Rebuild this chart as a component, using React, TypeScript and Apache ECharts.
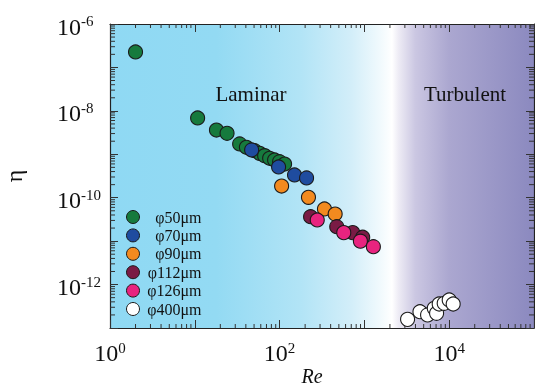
import React, { useEffect, useRef } from "react";
import * as echarts from "echarts";

const FONT = "'Liberation Serif', 'Times New Roman', serif";

const seriesNames = ["φ50μm", "φ70μm", "φ90μm", "φ112μm", "φ126μm", "φ400μm"];
const seriesColors = ["#167a3d", "#1f4c9f", "#f28a1f", "#7a1b45", "#e8247f", "#ffffff"];

const re50 = [2.0, 10.8, 18.0, 24.0, 33.8, 40.6, 50.8, 58.2, 66.6, 76.3, 87.3, 100, 114.5];
const eta50 = [2.27e-7, 6.85e-9, 3.62e-9, 3.04e-9, 1.73e-9, 1.45e-9, 1.21e-9, 1.05e-9, 9.3e-10, 8.1e-10, 7.4e-10, 6.75e-10, 5.97e-10];

const re70 = [46.8, 97.3, 150, 208];
const eta70 = [1.26e-9, 5.1e-10, 3.34e-10, 2.85e-10];

const re90 = [105.6, 219, 338, 452];
const eta90 = [1.86e-10, 1.02e-10, 5.5e-11, 4.2e-11];

const re112 = [232, 472, 728, 955];
const eta112 = [3.66e-11, 2.15e-11, 1.57e-11, 1.23e-11];

const re126 = [278, 571, 897, 1276];
const eta126 = [3.07e-11, 1.57e-11, 1.0e-11, 7.45e-12];

const re400 = [3230, 4520, 5560, 6670, 7100, 7620, 8730, 10000, 11140];
const eta400 = [1.58e-13, 2.37e-13, 2.0e-13, 2.84e-13, 2.18e-13, 3.57e-13, 3.7e-13, 4.42e-13, 3.57e-13];

const seriesRe = [re50, re70, re90, re112, re126, re400];
const seriesEta = [eta50, eta70, eta90, eta112, eta126, eta400];

const xLabelExps = [0, 2, 4];
const yLabelExps = [-6, -8, -10, -12];
const xMin = 1;
const xMax = 1e5;
const yMin = 1e-13;
const yMax = 1e-6;

const regionLabels = ["Laminar", "Turbulent"];

export default function App() {
  const ref = useRef<HTMLDivElement>(null);
  useEffect(() => {
    if (!ref.current) return;
    const chart = echarts.init(ref.current, null, { renderer: "svg" });

    const richLabel = {
      b: { fontSize: 24, lineHeight: 26, fontFamily: FONT, color: "#111" },
      s: { fontSize: 15, lineHeight: 12, verticalAlign: "top", fontFamily: FONT, color: "#111" },
    };
    const fmt = (exps: number[]) => (v: number) => {
      const e = Math.round(Math.log10(v));
      if (!exps.includes(e)) return "";
      return `{b|10}{s|${e}}`;
    };

    const tickCommon = { show: true, inside: true, length: 8, lineStyle: { color: "#333", width: 1 } };
    const lineCommon = { show: true, lineStyle: { color: "#222", width: 1.2 } };

    const scatterSeries = seriesNames.map((name, i) => ({
      name,
      type: "scatter",
      symbol: "circle",
      symbolSize: 14,
      data: seriesRe[i].map((r, j) => [r, seriesEta[i][j]]),
      itemStyle: { color: seriesColors[i], borderColor: "#1a1a1a", borderWidth: 1.1, opacity: 1 },
      z: 3,
    }));

    const minorSeries = {
      type: "custom",
      silent: true,
      z: 2,
      data: [[10, 1e-10]],
      renderItem: (params: any, api: any) => {
        const cs = params.coordSys;
        const children: any[] = [];
        const top = cs.y;
        const bottom = cs.y + cs.height;
        const left = cs.x;
        const right = cs.x + cs.width;
        const st = { stroke: "#333", lineWidth: 1 };
        for (let k = 0; k < 5; k++) {
          for (let m = 2; m <= 9; m++) {
            const v = m * Math.pow(10, k);
            const px = api.coord([v, yMin])[0];
            children.push({ type: "line", shape: { x1: px, y1: bottom, x2: px, y2: bottom - 4 }, style: st });
            children.push({ type: "line", shape: { x1: px, y1: top, x2: px, y2: top + 4 }, style: st });
          }
        }
        for (let k = -13; k < -6; k++) {
          for (let m = 2; m <= 9; m++) {
            const v = m * Math.pow(10, k);
            const py = api.coord([xMin, v])[1];
            children.push({ type: "line", shape: { x1: left, y1: py, x2: left + 5, y2: py }, style: st });
            children.push({ type: "line", shape: { x1: right, y1: py, x2: right - 5, y2: py }, style: st });
          }
        }
        return { type: "group", children };
      },
    };

    const bg = new echarts.graphic.LinearGradient(0, 0, 1, 0, [
      { offset: 0, color: "#8fd9f3" },
      { offset: 0.25, color: "#93daf3" },
      { offset: 0.45, color: "#b2e4f6" },
      { offset: 0.57, color: "#d3eef9" },
      { offset: 0.64, color: "#f2fafd" },
      { offset: 0.665, color: "#ffffff" },
      { offset: 0.68, color: "#eeecf5" },
      { offset: 0.72, color: "#cbc7e2" },
      { offset: 0.8, color: "#aba7d0" },
      { offset: 1, color: "#8b89bf" },
    ]);

    chart.setOption({
      animation: false,
      textStyle: { fontFamily: FONT },
      grid: {
        left: 110,
        right: 1,
        top: 24,
        bottom: 60,
        show: true,
        backgroundColor: bg,
        borderWidth: 0,
        containLabel: false,
        outerBoundsMode: "none",
      },
      legend: {
        data: seriesNames,
        orient: "vertical",
        left: 126,
        top: 209,
        padding: 0,
        itemWidth: 13,
        itemHeight: 13,
        itemGap: 2.4,
        itemStyle: { borderColor: "#1a1a1a", borderWidth: 1 },
        icon: "circle",
        formatter: (name: string) => `{a|${name}}`,
        textStyle: {
          lineHeight: 13,
          rich: { a: { width: 57, align: "right", fontSize: 16, lineHeight: 13, fontFamily: FONT, color: "#111" } },
        },
      },
      xAxis: [
        {
          type: "log",
          logBase: 10,
          min: xMin,
          max: xMax,
          splitNumber: 5,
          position: "bottom",
          axisLine: lineCommon,
          axisTick: tickCommon,
          splitLine: { show: false },
          axisLabel: { margin: 12, formatter: fmt(xLabelExps), rich: richLabel },
          name: "Re",
          nameLocation: "middle",
          nameGap: 38,
          nameMoveOverlap: false,
          nameTextStyle: { fontSize: 20, lineHeight: 20, fontStyle: "italic", fontFamily: FONT, color: "#111", padding: [0, 20, 0, 0] },
        },
        {
          type: "log",
          logBase: 10,
          min: xMin,
          max: xMax,
          splitNumber: 5,
          position: "top",
          axisLine: lineCommon,
          axisTick: tickCommon,
          splitLine: { show: false },
          axisLabel: { show: false },
        },
      ],
      yAxis: [
        {
          type: "log",
          logBase: 10,
          min: yMin,
          max: yMax,
          splitNumber: 7,
          position: "left",
          axisLine: lineCommon,
          axisTick: tickCommon,
          splitLine: { show: false },
          axisLabel: { margin: 53, align: "left", padding: [5, 0, 0, 0], formatter: fmt(yLabelExps), rich: richLabel },
          name: "η",
          nameLocation: "middle",
          nameGap: 84,
          nameMoveOverlap: false,
          nameTextStyle: { fontSize: 24, fontFamily: FONT, color: "#111" },
        },
        {
          type: "log",
          logBase: 10,
          min: yMin,
          max: yMax,
          splitNumber: 7,
          position: "right",
          axisLine: lineCommon,
          axisTick: tickCommon,
          splitLine: { show: false },
          axisLabel: { show: false },
        },
      ],
      graphic: [
        {
          type: "text",
          x: 251,
          y: 94,
          style: { text: regionLabels[0], fontSize: 21, fontFamily: FONT, fill: "#111", align: "center", verticalAlign: "middle" },
        },
        {
          type: "text",
          x: 465,
          y: 94,
          style: { text: regionLabels[1], fontSize: 21, fontFamily: FONT, fill: "#111", align: "center", verticalAlign: "middle" },
        },
      ],
      series: [minorSeries, ...scatterSeries],
    });
    return () => chart.dispose();
  }, []);
  return <div ref={ref} style={{ position: "fixed", left: 0, top: 0, width: 535, height: 388 }} />;
}
